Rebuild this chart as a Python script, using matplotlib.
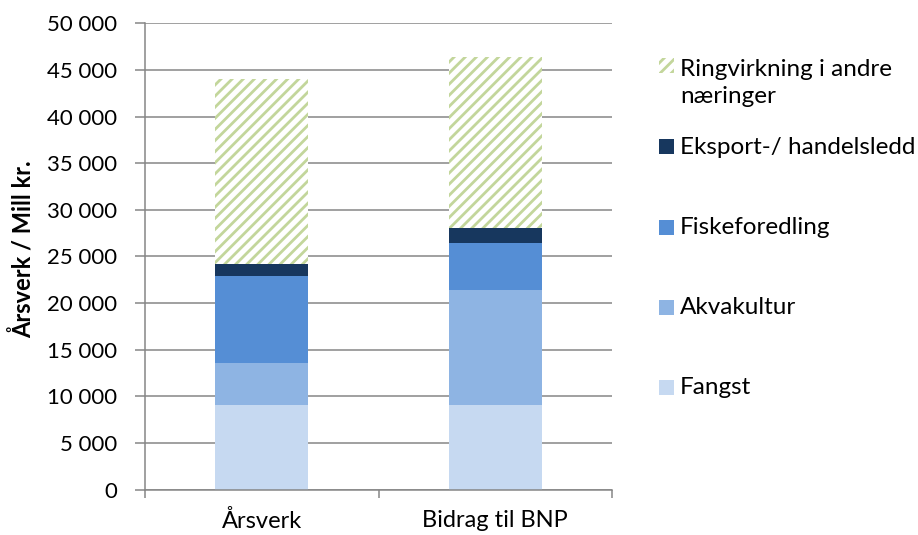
import matplotlib
matplotlib.use("Agg")
import matplotlib.pyplot as plt
from matplotlib.patches import Rectangle
import numpy as np

categories = ["Årsverk", "Bidrag til BNP"]
series_names = ["Fangst", "Akvakultur", "Fiskeforedling", "Eksport-/ handelsledd",
                "Ringvirkning i andre\nnæringer"]
fangst = [9050, 9050]
akvakultur = [4550, 12300]
fiskeforedling = [9300, 5050]
eksport = [1300, 1600]
ringvirkning = [19800, 18350]
yticks = [0, 5000, 10000, 15000, 20000, 25000, 30000, 35000, 40000, 45000, 50000]
ytick_labels = ["0", "5 000", "10 000", "15 000", "20 000", "25 000", "30 000",
                "35 000", "40 000", "45 000", "50 000"]

colors = ["#c6d9f1", "#8eb4e3", "#558ed5", "#17375e", "#c3d69b"]

plt.rcParams['font.family'] = ['Lato', 'DejaVu Sans']
plt.rcParams['hatch.linewidth'] = 2.0

fig = plt.figure(figsize=(9.18, 5.35), dpi=100)
W, H = 918, 535
ax = fig.add_axes([145 / W, 1 - 489.5 / H, (612 - 145) / W, (489.5 - 23.3) / H])

x = np.arange(len(categories))
width = 0.4
series = [fangst, akvakultur, fiskeforedling, eksport, ringvirkning]
bottom = np.zeros(len(categories))
for i, vals in enumerate(series):
    vals = np.array(vals, dtype=float)
    if i == 4:
        ax.bar(x, vals, width, bottom=bottom, facecolor="white", edgecolor=colors[i],
               hatch="///", linewidth=0, zorder=2)
    else:
        ax.bar(x, vals, width, bottom=bottom, color=colors[i], linewidth=0, zorder=2)
    bottom += vals

ax.set_xlim(-0.5, 1.5)
ax.set_ylim(0, 50000)
ax.set_yticks(yticks)
ax.set_yticklabels(ytick_labels)
ax.yaxis.grid(True, color="#868686", linewidth=1.1)
ax.set_axisbelow(True)

ax.set_xticks(x)
ax.set_xticklabels(categories)
ax.set_xticks([-0.5, 0.5, 1.5], minor=True)
ax.tick_params(axis="x", which="major", length=0, pad=15, labelsize=17, labelcolor="#000000")
ax.tick_params(axis="x", which="minor", length=6, color="#868686", width=1.1)
ax.tick_params(axis="y", which="major", length=7, color="#868686", width=1.1,
               labelsize=16, pad=13)

for s in ["top", "right"]:
    ax.spines[s].set_visible(False)
for s in ["left", "bottom"]:
    ax.spines[s].set_color("#868686")
    ax.spines[s].set_linewidth(1.1)

fig.text(23 / W, 1 - 249 / H, "Årsverk / Mill kr.", rotation=90, fontsize=17,
         fontweight="bold", ha="center", va="center")

# legend (manual, Excel-like layout)
legend_items = [
    (4, 65.5, 68),
    (3, 146, 147),
    (2, 227.5, 227),
    (1, 307.5, 307),
    (0, 387.5, 387),
]
for idx, my, ty in legend_items:
    size = 15
    if idx == 4:
        r = Rectangle((659 / W, 1 - (my + size / 2) / H), size / W, size / H,
                      transform=fig.transFigure, facecolor="white", edgecolor=colors[idx],
                      hatch="///", linewidth=0)
    else:
        r = Rectangle((659 / W, 1 - (my + size / 2) / H), size / W, size / H,
                      transform=fig.transFigure, facecolor=colors[idx], linewidth=0)
    fig.patches.append(r)
    if idx == 4:
        fig.text(680 / W, 1 - (ty - 9) / H, series_names[idx], fontsize=17.5,
                 ha="left", va="top", linespacing=1.38)
    else:
        fig.text(680 / W, 1 - ty / H, series_names[idx], fontsize=17.5,
                 ha="left", va="center")

fig.savefig("out.png", dpi=100)
